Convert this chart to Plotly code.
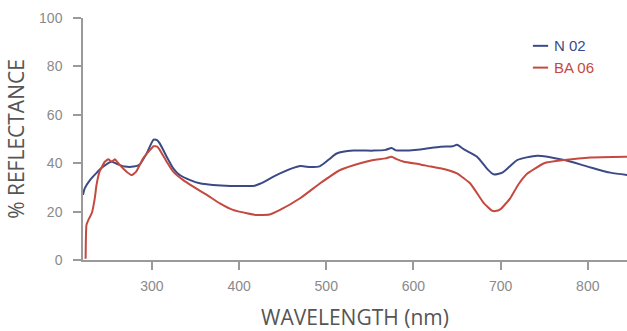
import plotly.graph_objects as go

# N 02 (blue) spectrum
wl_n02 = [221, 223, 229, 236, 244, 254, 261, 269, 279, 286, 294, 302, 306, 309, 317,
          324.5, 332, 344, 355, 370, 390, 409, 418, 424, 447, 470, 482, 493, 503, 512,
          531, 554, 568, 575, 580, 585, 608, 631, 645, 650, 658, 673, 685, 692,
          702, 710, 719, 742, 773, 800, 826, 846]
refl_n02 = [26.9, 29.6, 33.0, 35.8, 38.6, 40.6, 39.5, 38.6, 38.6, 39.5, 44.0, 49.7, 49.5, 48.2, 42.7,
            37.9, 35.1, 33.0, 31.7, 31.0, 30.6, 30.6, 30.7, 31.5, 35.8, 38.8, 38.4, 38.8, 41.5, 44.0,
            45.2, 45.2, 45.5, 46.3, 45.3, 45.2, 45.7, 46.8, 47.0, 47.6, 45.7, 42.7, 37.5, 35.4,
            36.1, 38.5, 41.3, 43.1, 41.3, 38.6, 36.1, 35.1]

# BA 06 (red) spectrum
wl_ba06 = [224, 225, 228, 231, 234.5, 236.5, 240, 246, 250, 254, 257.5, 263, 271, 277,
           282, 290, 298, 302, 306, 309, 317, 324.5, 336, 347.5, 363, 378, 393, 409, 420, 435, 447,
           470, 493, 516, 539, 554, 568, 575, 580, 589, 608, 620, 631, 642, 650, 665,
           681, 690, 694, 700, 711, 720, 731, 750, 773, 803, 846]
refl_ba06 = [0.5, 14.5, 17.2, 19.3, 25.5, 31.0, 36.5, 40.6, 41.6, 40.6, 41.6, 39.3, 36.5, 35.1,
             36.5, 42.0, 45.5, 47.0, 46.8, 45.5, 40.6, 36.5, 33.0, 30.3, 26.9, 23.4, 20.7, 19.3, 18.6, 18.8, 20.7,
             25.5, 31.7, 37.2, 40.0, 41.3, 42.0, 42.7, 41.8, 40.6, 39.5, 38.6, 37.9, 36.9, 35.8, 31.7,
             23.4, 20.4, 20.2, 21.0, 25.5, 31.0, 35.8, 40.0, 41.3, 42.4, 42.7]

x_ticks = [300, 400, 500, 600, 700, 800]
y_ticks = [0, 20, 40, 60, 80, 100]

series_names = ["N 02", "BA 06"]
series_colors = ["#3b4a86", "#c4493f"]

fig = go.Figure()
fig.add_trace(go.Scatter(x=wl_n02, y=refl_n02, mode="lines", name=series_names[0],
                         line=dict(color=series_colors[0], width=2, shape="spline", smoothing=0.6),
                         showlegend=False))
fig.add_trace(go.Scatter(x=wl_ba06, y=refl_ba06, mode="lines", name=series_names[1],
                         line=dict(color=series_colors[1], width=2, shape="spline", smoothing=0.4),
                         showlegend=False))

axis_color = "#9a9a9a"
tick_font = dict(family="Liberation Sans, Arial, sans-serif", size=14, color="#8a8a8a")
title_font = dict(family="Open Sans, sans-serif", size=21, color="#555555")

fig.update_layout(
    width=627, height=331,
    margin=dict(l=83, r=0, t=18, b=71),
    paper_bgcolor="white", plot_bgcolor="white",
    xaxis=dict(range=[221, 845], tickvals=x_ticks, ticks="outside", ticklen=8,
               tickcolor=axis_color, tickwidth=1.5, showline=True, linecolor=axis_color,
               linewidth=1.5, showgrid=False, zeroline=False, tickfont=tick_font,
               ticklabelstandoff=4,
               title=dict(text="WAVELENGTH (nm)", font=title_font, standoff=19)),
    yaxis=dict(range=[0, 100], tickvals=y_ticks, ticks="outside", ticklen=8,
               tickcolor=axis_color, tickwidth=1.5, showline=True, linecolor=axis_color,
               linewidth=1.5, showgrid=False, zeroline=False, tickfont=tick_font,
               ticklabelstandoff=8,
               title=dict(text="% REFLECTANCE", font=title_font, standoff=9)),
)

# manual legend
legend_rows = [0.885, 0.795]
for name, color, yy in zip(series_names, series_colors, legend_rows):
    fig.add_shape(type="line", xref="paper", yref="paper",
                  x0=0.827, x1=0.855, y0=yy, y1=yy,
                  line=dict(color=color, width=2))
    fig.add_annotation(xref="paper", yref="paper", x=0.863, y=yy, text=name,
                       showarrow=False, xanchor="left", yanchor="middle",
                       font=dict(family="Liberation Sans, Arial, sans-serif", size=15, color=color))

fig.write_html("out.html")
